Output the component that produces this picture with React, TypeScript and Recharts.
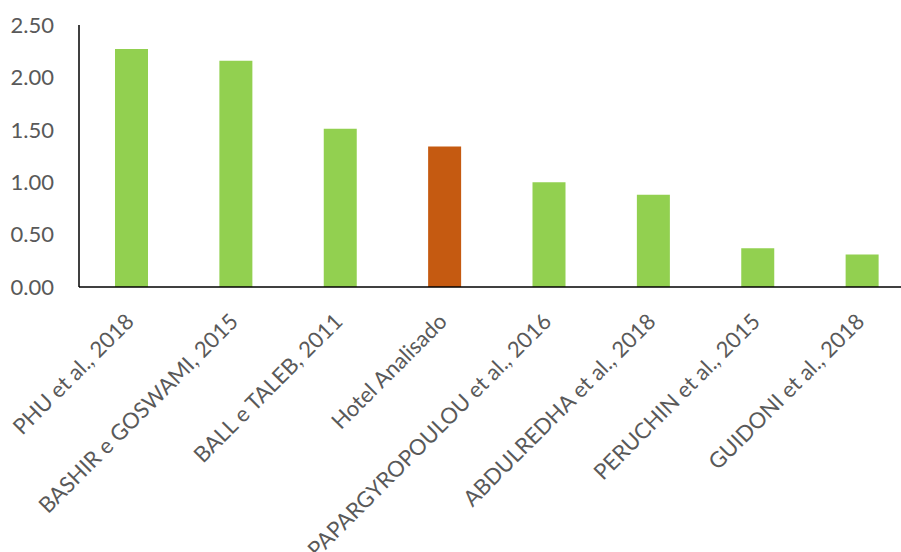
import React from "react";
import { BarChart, Bar, XAxis, YAxis, Cell } from "recharts";

const categories = [
  "PHU et al., 2018",
  "BASHIR e GOSWAMI, 2015",
  "BALL e TALEB, 2011",
  "Hotel Analisado",
  "PAPARGYROPOULOU et al., 2016",
  "ABDULREDHA et al., 2018",
  "PERUCHIN et al., 2015",
  "GUIDONI et al., 2018",
];
const values = [2.27, 2.16, 1.51, 1.34, 1.0, 0.88, 0.37, 0.31];
const highlighted = ["Hotel Analisado"];
const yTicks = [0, 0.5, 1, 1.5, 2, 2.5];

const GREEN = "#92D050";
const ORANGE = "#C55A11";
const TEXT = "#595959";
const FONT = "Lato, 'Open Sans', sans-serif";
const FONT_SIZE = 22;

const data = categories.map((name, i) => ({ name, value: values[i] }));

const XTick = (props: any) => {
  const { x, y, payload } = props;
  const tx = x + 4;
  const ty = y + 34;
  return (
    <text
      x={tx}
      y={ty}
      transform={`rotate(-45, ${tx}, ${ty})`}
      textAnchor="end"
      fill={TEXT}
      fontSize={FONT_SIZE}
      fontFamily={FONT}
    >
      {payload.value}
    </text>
  );
};

export default function App() {
  return (
    <div
      style={{
        position: "absolute",
        left: 0,
        top: 0,
        width: 901,
        height: 552,
        overflow: "hidden",
        background: "#fff",
      }}
    >
      <BarChart
        width={914}
        height={552}
        data={data}
        margin={{ top: 25, right: 0, left: 0, bottom: 0 }}
        barSize={33}
      >
        <YAxis
          width={79}
          domain={[0, 2.5]}
          ticks={yTicks}
          interval={0}
          tickFormatter={(v: number) => v.toFixed(2)}
          tickLine={false}
          tickSize={0}
          tickMargin={25}
          axisLine={{ stroke: "#000", strokeWidth: 1.5 }}
          tick={{ fill: TEXT, fontSize: FONT_SIZE, fontFamily: FONT }}
        />
        <XAxis
          dataKey="name"
          height={265}
          interval={0}
          tickLine={false}
          tickSize={0}
          axisLine={{ stroke: "#000", strokeWidth: 1.5 }}
          tick={<XTick />}
        />
        <Bar dataKey="value" isAnimationActive={false}>
          {data.map((d) => (
            <Cell key={d.name} fill={highlighted.includes(d.name) ? ORANGE : GREEN} />
          ))}
        </Bar>
      </BarChart>
    </div>
  );
}
